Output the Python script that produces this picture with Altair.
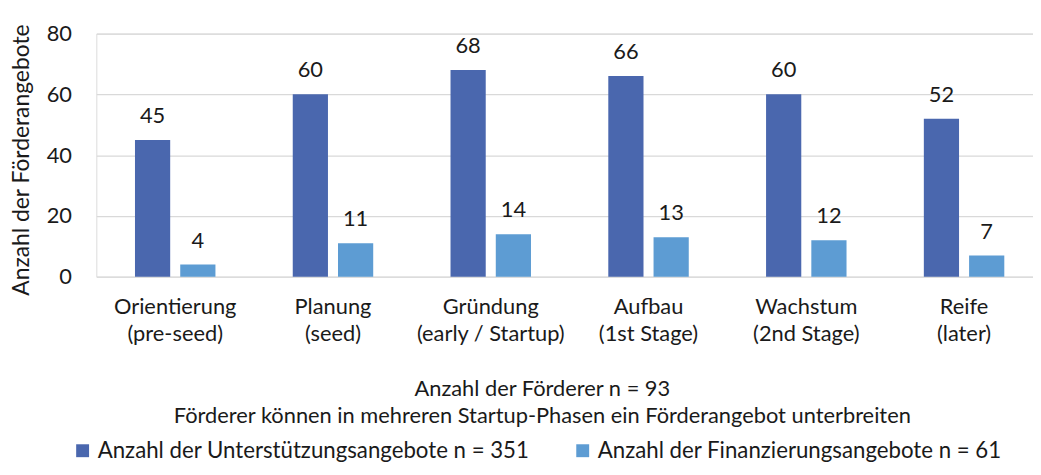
import altair as alt
import pandas as pd

phases = ["Orientierung|(pre-seed)", "Planung|(seed)", "Gründung|(early / Startup)",
          "Aufbau|(1st Stage)", "Wachstum|(2nd Stage)", "Reife|(later)"]
unterstuetzung = [45, 60, 68, 66, 60, 52]
finanzierung = [4, 11, 14, 13, 12, 7]
series = ["Anzahl der Unterstützungsangebote n = 351", "Anzahl der Finanzierungsangebote n = 61"]
colors = ["#4A67AE", "#5D9CD3"]
y_ticks = [0, 20, 40, 60, 80]

rows = []
for p, a, b in zip(phases, unterstuetzung, finanzierung):
    rows.append({"phase": p, "serie": series[0], "wert": a})
    rows.append({"phase": p, "serie": series[1], "wert": b})
df = pd.DataFrame(rows)

FONT = "Lato"
TXT = "#1a1a1a"
FS = 22

x_enc = alt.X("phase:N", sort=phases,
              scale=alt.Scale(paddingInner=0.49, paddingOuter=0.2135, align=0.574),
              axis=alt.Axis(title=["Anzahl der Förderer n = 93",
                                   "Förderer können in mehreren Startup-Phasen ein Förderangebot unterbreiten"],
                            labelExpr="split(datum.label, '|')",
                            labelAngle=0, labelFontSize=FS, labelLineHeight=27,
                            labelPadding=20, labelColor=TXT, labelFont=FONT,
                            domain=False, ticks=False, grid=False,
                            titleFontSize=22, titleFontWeight="normal", titleColor=TXT,
                            titleFont=FONT, titleLineHeight=27, titleX=449, titleY=103,
                            titleBaseline="top"))
xo_enc = alt.XOffset("serie:N", sort=series,
                     scale=alt.Scale(paddingInner=0.222, paddingOuter=0))
y_enc = alt.Y("wert:Q", scale=alt.Scale(domain=[0, 80], nice=False),
              axis=alt.Axis(values=y_ticks, title="Anzahl der Förderangebote",
                            labelFontSize=FS, labelColor=TXT, labelFont=FONT, labelPadding=25,
                            ticks=False, domain=False, gridColor="#D9D9D9", gridWidth=1.3,
                            titleFontSize=23, titleFontWeight="normal", titleColor=TXT,
                            titleFont=FONT, titleX=-75, titleY=127, titleBaseline="middle"))

bars = alt.Chart(df).mark_bar().encode(
    x=x_enc, xOffset=xo_enc, y=y_enc,
    color=alt.Color("serie:N", sort=series,
                    scale=alt.Scale(domain=series, range=colors),
                    legend=alt.Legend(title=None, orient="none", direction="horizontal",
                                      legendX=-25, legendY=409,
                                      symbolType="square", symbolSize=169, symbolStrokeWidth=0,
                                      labelFontSize=22.4, labelFont=FONT, labelColor=TXT,
                                      labelLimit=700, columnPadding=42, symbolOffset=0,
                                      labelOffset=4))
)

labels = alt.Chart(df).mark_text(baseline="alphabetic", dy=-17, fontSize=FS,
                                 font=FONT, color=TXT).encode(
    x=alt.X("phase:N", sort=phases), xOffset=alt.XOffset("serie:N", sort=series),
    y="wert:Q", text="wert:Q"
)

chart = (bars + labels).properties(
    width=944, height=245,
    autosize=alt.AutoSizeParams(type="none"),
    padding={"left": 89, "top": 24, "right": 0, "bottom": 186}
).configure_view(stroke=None).configure(background="white")

chart.save("out.html", embed_options={"renderer": "svg", "actions": False})
